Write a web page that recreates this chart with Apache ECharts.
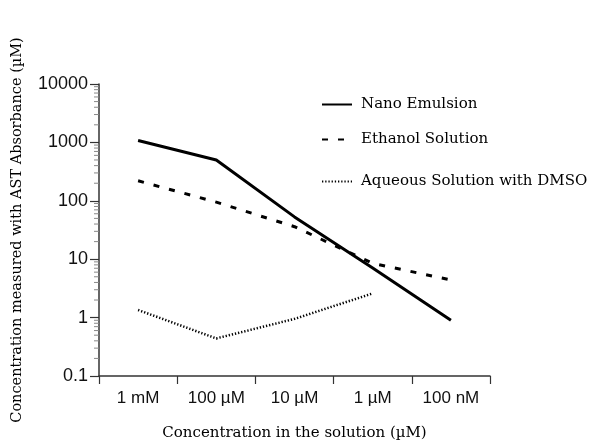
<!DOCTYPE html>
<html>
<head>
<meta charset="utf-8">
<script src="https://cdn.jsdelivr.net/npm/echarts@6/dist/echarts.min.js"></script>
<style>
  html, body { margin: 0; padding: 0; background: #fff; }
  #chart { width: 590px; height: 440px; }
</style>
</head>
<body>
<div id="chart"></div>
<script>
// concentrations in the solution (x categories)
const categories = ['1 mM', '100 µM', '10 µM', '1 µM', '100 nM']

// measured concentration (µM)
const nanoEmulsion = [1080, 500, 53, 7.1, 0.9]
const ethanolSolution = [220, 95, 36, 8.5, 4.4]
const aqueousDMSO = [1.35, 0.44, 0.95, 2.6, null]

// log minor ticks 2..9 for each decade
const minorTicks = [0.2, 0.3, 0.4, 0.5, 0.6, 0.7, 0.8, 0.9,
  2, 3, 4, 5, 6, 7, 8, 9,
  20, 30, 40, 50, 60, 70, 80, 90,
  200, 300, 400, 500, 600, 700, 800, 900,
  2000, 3000, 4000, 5000, 6000, 7000, 8000, 9000]

const serif = '"DejaVu Serif", serif'
const sans = '"Liberation Sans", Arial, sans-serif'
const axisColor = '#333'

const chart = echarts.init(document.getElementById('chart'))

const legendBase = {
  orient: 'vertical',
  left: 316,
  itemWidth: 30,
  itemHeight: 12,
  itemStyle: { opacity: 0 },
  textStyle: { fontFamily: serif, fontSize: 15, color: '#000', padding: [0, 0, 0, 4] },
  selectedMode: false
}

chart.setOption({
  animation: false,
  grid: { left: 99, right: 100, top: 84, bottom: 64, outerBoundsMode: 'none', containLabel: false },
  legend: [
    { ...legendBase, top: 92, data: ['Nano Emulsion'] },
    { ...legendBase, top: 127, data: ['Ethanol Solution'] },
    { ...legendBase, top: 169, data: ['Aqueous Solution with DMSO'] }
  ],
  xAxis: {
    type: 'category',
    data: categories,
    boundaryGap: true,
    name: 'Concentration in the solution (µM)',
    nameLocation: 'middle',
    nameGap: 50,
    nameTextStyle: { fontFamily: serif, fontSize: 15, color: '#000' },
    axisLine: { lineStyle: { color: axisColor, width: 1.5 } },
    axisTick: { show: true, length: 8, lineStyle: { color: axisColor, width: 1.2 } },
    axisLabel: { fontFamily: sans, fontSize: 17, color: '#111', margin: 14 },
    splitLine: { show: false }
  },
  yAxis: {
    type: 'log',
    logBase: 10,
    min: 0.1,
    max: 10000,
    name: 'Concentration measured with AST Absorbance (µM)',
    nameLocation: 'middle',
    nameGap: 74,
    nameRotate: 90,
    nameTextStyle: { fontFamily: serif, fontSize: 14.5, color: '#000' },
    axisLine: { show: true, lineStyle: { color: axisColor, width: 1.5 } },
    axisTick: { show: true, length: 9, lineStyle: { color: axisColor, width: 1.2 } },
    axisLabel: {
      fontFamily: sans, fontSize: 18, color: '#111', margin: 11,
      formatter: v => String(+(+v).toPrecision(6))
    },
    splitLine: { show: false }
  },
  series: [
    {
      name: 'Nano Emulsion',
      type: 'line',
      data: nanoEmulsion,
      symbol: 'none',
      lineStyle: { color: '#000', width: 3, type: 'solid' },
      itemStyle: { color: '#000' }
    },
    {
      name: 'Ethanol Solution',
      type: 'line',
      data: ethanolSolution,
      symbol: 'none',
      lineStyle: { color: '#000', width: 3, type: [6, 10] },
      itemStyle: { color: '#000' }
    },
    {
      name: 'Aqueous Solution with DMSO',
      type: 'line',
      data: aqueousDMSO,
      symbol: 'none',
      lineStyle: { color: '#000', width: 2.5, type: [1.3, 1.9] },
      itemStyle: { color: '#000' }
    },
    {
      // minor ticks of the log axis, placed with the axis scale
      type: 'custom',
      silent: true,
      clip: false,
      data: minorTicks.map(v => [0, v]),
      renderItem: (params, api) => {
        const y = api.coord([0, api.value(1)])[1]
        const x0 = params.coordSys.x
        return {
          type: 'line',
          shape: { x1: x0 - 5, y1: y, x2: x0, y2: y },
          style: { stroke: '#888', lineWidth: 1 }
        }
      }
    }
  ]
})
</script>
</body>
</html>
